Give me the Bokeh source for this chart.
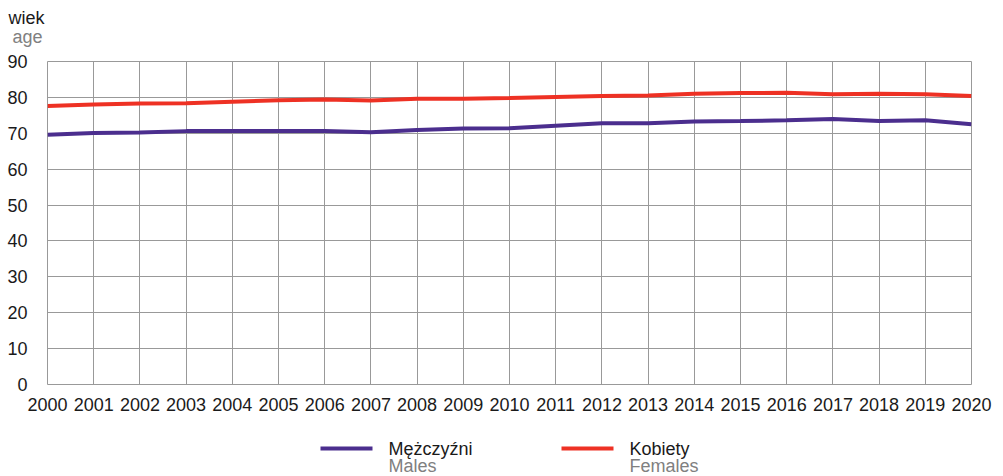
from bokeh.plotting import figure
from bokeh.layouts import column
from bokeh.models import Range1d, FixedTicker
from bokeh.core.properties import value
from bokeh.embed import file_html
from bokeh.resources import INLINE

years = list(range(2000, 2021))
males = [69.6, 70.1, 70.2, 70.6, 70.6, 70.6, 70.6, 70.3, 70.9, 71.3, 71.4,
         72.1, 72.8, 72.8, 73.3, 73.4, 73.6, 74.0, 73.4, 73.6, 72.5]
females = [77.6, 78.0, 78.3, 78.4, 78.8, 79.2, 79.4, 79.1, 79.6, 79.6, 79.8,
           80.1, 80.4, 80.5, 81.0, 81.2, 81.3, 80.9, 81.0, 80.9, 80.4]
y_ticks = [0, 10, 20, 30, 40, 50, 60, 70, 80, 90]
legend_pl = ["Mężczyźni", "Kobiety"]
legend_en = ["Males", "Females"]
caption = ["wiek", "age"]
colors = ["#4b2e8e", "#ee3124"]

FONT = "Liberation Sans"
W = 998
TOP_H = 49            # caption strip height
FT, FB = 61, 384      # frame top / bottom in page px
FL, FR = 47, 971      # frame left / right
MAIN_BOTTOM = 420
LEG_H = 56


def no_align(f):
    try:
        f.frame_align = False
    except Exception:
        pass


def strip(h, y0):
    f = figure(width=W, height=h, output_backend="svg", toolbar_location=None,
               title=None, x_axis_location=None, y_axis_location=None,
               x_range=Range1d(0, W), y_range=Range1d(y0 + h, y0),
               min_border=0, min_border_left=0, min_border_right=0,
               min_border_top=0, min_border_bottom=0)
    f.outline_line_color = None
    f.grid.visible = False
    f.background_fill_color = "white"
    f.border_fill_color = "white"
    no_align(f)
    return f


# caption strip (page coords)
p0 = strip(TOP_H, 0)
p0.text(x=[8, 12], y=[17, 36], text=caption, text_font=value(FONT),
        text_font_size="18px", text_color=["#1a1a1a", "#808080"],
        text_baseline="middle", text_align="left")

# main chart
p = figure(width=W, height=MAIN_BOTTOM - TOP_H, output_backend="svg",
           toolbar_location=None,
           x_range=Range1d(2000, 2020), y_range=Range1d(0, 90),
           min_border_left=FL, min_border_right=W - FR, min_border_top=FT - TOP_H,
           min_border_bottom=MAIN_BOTTOM - FB)
no_align(p)
p.outline_line_color = "#999999"
p.background_fill_color = "white"
p.border_fill_color = "white"
for ax in (p.xaxis[0], p.yaxis[0]):
    ax.axis_line_color = None
    ax.major_tick_line_color = None
    ax.minor_tick_line_color = None
    ax.major_label_text_font = FONT
    ax.major_label_text_font_size = "18px"
    ax.major_label_text_color = "#1a1a1a"
p.xaxis.ticker = FixedTicker(ticks=years)
p.yaxis.ticker = FixedTicker(ticks=y_ticks)
p.xaxis.major_label_standoff = 7
p.yaxis.major_label_standoff = 14
p.xgrid.grid_line_color = "#999999"
p.ygrid.grid_line_color = "#999999"
p.xgrid.ticker = FixedTicker(ticks=years)
p.ygrid.ticker = FixedTicker(ticks=y_ticks)

p.line(years, males, line_color=colors[0], line_width=4)
p.line(years, females, line_color=colors[1], line_width=4)

# legend strip (page coords)
p2 = strip(LEG_H, MAIN_BOTTOM)
sw_x = [320, 561]
p2.segment(x0=sw_x, y0=[448, 448], x1=[x + 52 for x in sw_x], y1=[448, 448],
           line_color=colors, line_width=4)
p2.text(x=[x + 68 for x in sw_x], y=[448, 448], text=legend_pl, text_font=value(FONT),
        text_font_size="18px", text_color="#1a1a1a", text_baseline="middle")
p2.text(x=[x + 68 for x in sw_x], y=[465, 465], text=legend_en, text_font=value(FONT),
        text_font_size="18px", text_color="#808080", text_baseline="middle")

layout = column(p0, p, p2, spacing=0)
open("out.html", "w").write(file_html(layout, INLINE))
